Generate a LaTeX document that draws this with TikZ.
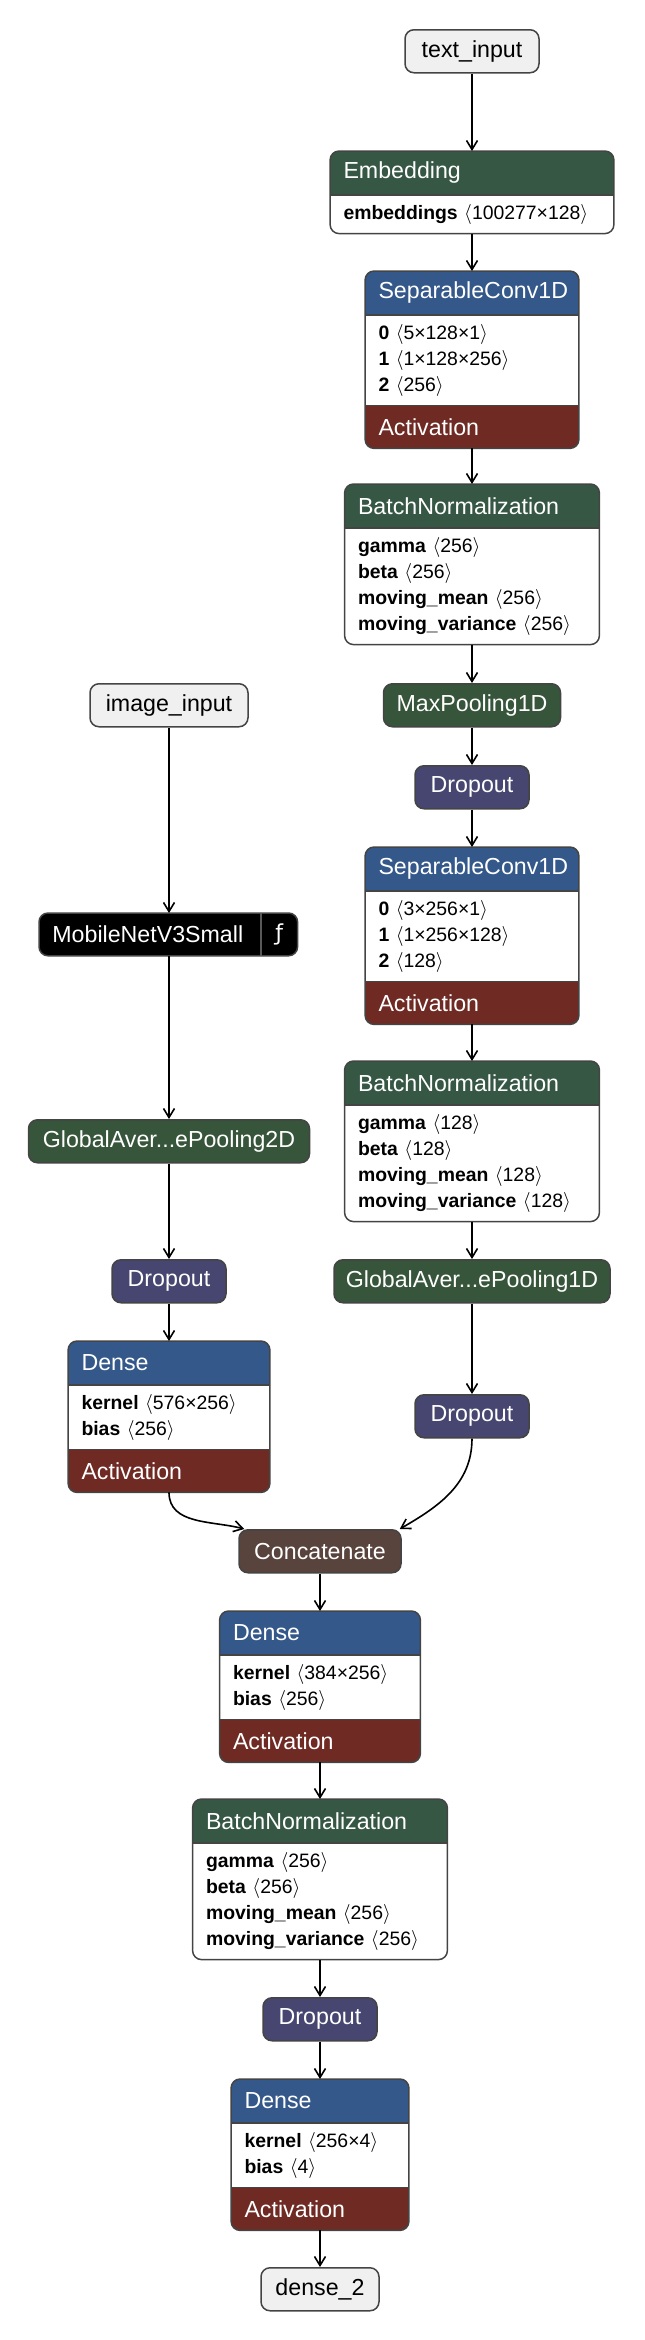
\documentclass[tikz,border=0pt]{standalone}
\usepackage{fontspec}
\setmainfont{Liberation Sans}
\newfontfamily\hookfont{DejaVu Sans}
\usetikzlibrary{arrows.meta, positioning}

\definecolor{normgreen}{HTML}{355744}
\definecolor{poolgreen}{HTML}{36553A}
\definecolor{convblue}{HTML}{34588A}
\definecolor{actred}{HTML}{6E2A23}
\definecolor{dropviolet}{HTML}{464670}
\definecolor{catbrown}{HTML}{59433D}
\definecolor{iogray}{HTML}{F0F0F0}
\definecolor{edgegray}{HTML}{444444}

\begin{document}
\begin{tikzpicture}[
  x=0.5pt, y=-0.5pt,
  every node/.style={inner sep=0pt},
  hdr/.style={text=white, font=\fontsize{11.6}{14}\selectfont, align=left,
              inner xsep=6.5pt, minimum height=21.5pt, text width=#1, anchor=north},
  body/.style={fill=white, font=\fontsize{9.7}{13}\selectfont, align=left,
               inner xsep=6.5pt, inner ysep=3pt, text width=#1},
  act/.style={hdr=#1, fill=actred, minimum height=21pt},
  pill/.style={draw=edgegray, line width=0.75pt, rounded corners=4.5pt, text=white,
               font=\fontsize{11.6}{14}\selectfont, minimum height=21.5pt,
               minimum width=#1, anchor=north},
  io/.style={pill=#1, fill=iogray, text=black},
  frame/.style={draw=edgegray, line width=0.75pt},
  arr/.style={-{Straight Barb[length=4.5pt,width=5.5pt]}, line width=0.8pt}
]
  \useasboundingbox (0,0) rectangle (644,2340);

  % --- text branch (right) ---
  \node[io=67pt] (tin) at (472,29) {text\_input};

  \node[hdr=128.5pt, fill=normgreen] (emb) at (472,151) {Embedding};
  \node[body=128.5pt, below=0pt of emb] (embp)
       {\strut\textbf{embeddings} $\langle$100277×128$\rangle$\strut};

  \node[hdr=93.5pt, fill=convblue] (sc1) at (472,271) {SeparableConv1D};
  \node[body=93.5pt, below=0pt of sc1] (sc1b)
       {\strut\textbf{0} $\langle$5×128×1$\rangle$\\
        \strut\textbf{1} $\langle$1×128×256$\rangle$\\
        \strut\textbf{2} $\langle$256$\rangle$\strut};
  \node[act=93.5pt, below=0pt of sc1b] (sc1a) {Activation};

  \node[hdr=114pt, fill=normgreen] (bn1) at (472,484) {BatchNormalization};
  \node[body=114pt, below=0pt of bn1] (bn1p)
       {\strut\textbf{gamma} $\langle$256$\rangle$\\
        \strut\textbf{beta} $\langle$256$\rangle$\\
        \strut\textbf{moving\_mean} $\langle$256$\rangle$\\
        \strut\textbf{moving\_variance} $\langle$256$\rangle$\strut};

  \node[pill=88.5pt, fill=poolgreen] (mp) at (472,683) {MaxPooling1D};
  \node[pill=57pt, fill=dropviolet] (do1) at (472,765) {Dropout};

  \node[hdr=93.5pt, fill=convblue] (sc2) at (472,847) {SeparableConv1D};
  \node[body=93.5pt, below=0pt of sc2] (sc2b)
       {\strut\textbf{0} $\langle$3×256×1$\rangle$\\
        \strut\textbf{1} $\langle$1×256×128$\rangle$\\
        \strut\textbf{2} $\langle$128$\rangle$\strut};
  \node[act=93.5pt, below=0pt of sc2b] (sc2a) {Activation};

  \node[hdr=114pt, fill=normgreen] (bn2) at (472,1061) {BatchNormalization};
  \node[body=114pt, below=0pt of bn2] (bn2p)
       {\strut\textbf{gamma} $\langle$128$\rangle$\\
        \strut\textbf{beta} $\langle$128$\rangle$\\
        \strut\textbf{moving\_mean} $\langle$128$\rangle$\\
        \strut\textbf{moving\_variance} $\langle$128$\rangle$\strut};

  \node[pill=138pt, fill=poolgreen] (gap1) at (472,1259) {GlobalAver...ePooling1D};
  \node[pill=57pt, fill=dropviolet] (do2) at (472,1394) {Dropout};

  % --- image branch (left) ---
  \node[io=79pt] (iin) at (169,683) {image\_input};

  \node[hdr=97.5pt, fill=black, minimum height=21pt, anchor=north west] (mob) at (39,913)
       {MobileNetV3Small};
  \node[fill=black, text=white, font=\hookfont\fontsize{11}{14}\selectfont,
        minimum width=18pt, minimum height=21pt, right=0pt of mob] (mobf) {ƒ};

  \node[pill=140.5pt, fill=poolgreen] (gap2) at (169,1119) {GlobalAver...ePooling2D};
  \node[pill=57pt, fill=dropviolet] (do3) at (169,1259) {Dropout};

  \node[hdr=87.5pt, fill=convblue] (dsl) at (169,1341) {Dense};
  \node[body=87.5pt, below=0pt of dsl] (dslb)
       {\strut\textbf{kernel} $\langle$576×256$\rangle$\\
        \strut\textbf{bias} $\langle$256$\rangle$\strut};
  \node[act=87.5pt, below=0pt of dslb] (dsla) {Activation};

  % --- merged head ---
  \node[pill=81pt, fill=catbrown] (cat) at (320,1529) {Concatenate};

  \node[hdr=87pt, fill=convblue] (dsm) at (320,1611) {Dense};
  \node[body=87pt, below=0pt of dsm] (dsmb)
       {\strut\textbf{kernel} $\langle$384×256$\rangle$\\
        \strut\textbf{bias} $\langle$256$\rangle$\strut};
  \node[act=87pt, below=0pt of dsmb] (dsma) {Activation};

  \node[hdr=114pt, fill=normgreen] (bn3) at (320,1799) {BatchNormalization};
  \node[body=114pt, below=0pt of bn3] (bn3p)
       {\strut\textbf{gamma} $\langle$256$\rangle$\\
        \strut\textbf{beta} $\langle$256$\rangle$\\
        \strut\textbf{moving\_mean} $\langle$256$\rangle$\\
        \strut\textbf{moving\_variance} $\langle$256$\rangle$\strut};

  \node[pill=57pt, fill=dropviolet] (do4) at (320,1997) {Dropout};

  \node[hdr=75.5pt, fill=convblue] (dsf) at (320,2079) {Dense};
  \node[body=75.5pt, below=0pt of dsf] (dsfb)
       {\strut\textbf{kernel} $\langle$256×4$\rangle$\\
        \strut\textbf{bias} $\langle$4$\rangle$\strut};
  \node[act=75.5pt, below=0pt of dsfb] (dsfa) {Activation};

  \node[io=59pt] (out) at (320,2267) {dense\_2};

  % --- rounded frames round the stacked boxes ---
  \foreach \a/\b in {emb/embp, sc1/sc1a, bn1/bn1p, sc2/sc2a, bn2/bn2p,
                     dsl/dsla, dsm/dsma, bn3/bn3p, dsf/dsfa, mob/mobf} {
    \fill[white, even odd rule] (\a.north west) rectangle (\b.south east)
         [rounded corners=4.5pt] (\a.north west) rectangle (\b.south east);
    \draw[frame, rounded corners=4.5pt] (\a.north west) rectangle (\b.south east);
  }
  \foreach \n in {emb, sc1, sc1b, bn1, sc2, sc2b, bn2, dsl, dslb, dsm, dsmb, bn3, dsf, dsfb}
    \draw[frame] (\n.south west) -- (\n.south east);
  \draw[draw=gray!70!black, line width=0.75pt] (mob.north east) -- (mob.south east);

  % --- arrows ---
  \draw[arr] (tin) -- (emb);
  \draw[arr] (embp) -- (sc1);
  \draw[arr] (sc1a) -- (bn1);
  \draw[arr] (bn1p) -- (mp);
  \draw[arr] (mp) -- (do1);
  \draw[arr] (do1) -- (sc2);
  \draw[arr] (sc2a) -- (bn2);
  \draw[arr] (bn2p) -- (gap1);
  \draw[arr] (gap1) -- (do2);

  \draw[arr] (iin.south) -- (iin.south |- mob.north);
  \draw[arr] (iin.south |- mob.south) -- (gap2);
  \draw[arr] (gap2) -- (do3);
  \draw[arr] (do3) -- (dsl);

  % both branches meet in the concatenation
  \draw[arr] (dsla.south) to[out=-90, in=165] ([xshift=3pt]cat.north west);
  \draw[arr] (do2.south) to[out=-90, in=30] ([xshift=-1pt]cat.north east);

  \draw[arr] (cat) -- (dsm);
  \draw[arr] (dsma) -- (bn3);
  \draw[arr] (bn3p) -- (do4);
  \draw[arr] (do4) -- (dsf);
  \draw[arr] (dsfa) -- (out);

\end{tikzpicture}
\end{document}
